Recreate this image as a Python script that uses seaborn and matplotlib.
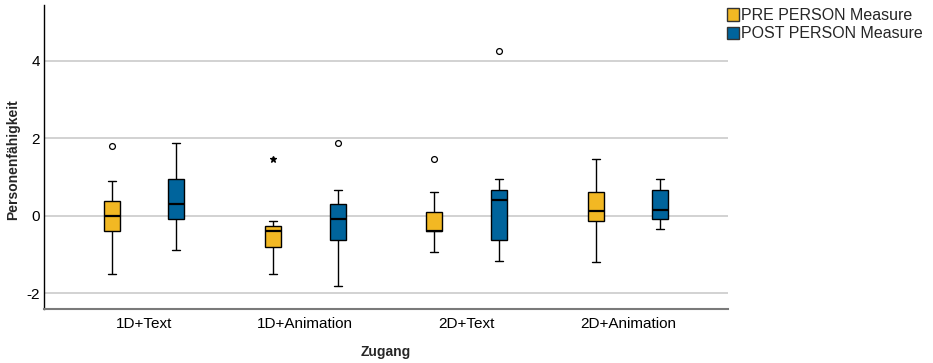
import matplotlib
matplotlib.use("Agg")
import matplotlib.pyplot as plt
from matplotlib.patches import Patch
import pandas as pd
import seaborn as sns

# Five-number summaries per approach (Zugang) and measurement
categories = ["1D+Text", "1D+Animation", "2D+Text", "2D+Animation"]
series = ["PRE PERSON Measure", "POST PERSON Measure"]

pre_low = [-1.49, -1.49, -0.92, -1.20]
pre_q1 = [-0.39, -0.79, -0.40, -0.14]
pre_median = [-0.01, -0.39, -0.40, 0.12]
pre_q3 = [0.38, -0.27, 0.11, 0.63]
pre_high = [0.90, -0.14, 0.63, 1.48]
pre_outliers = [[1.80], [1.47], [1.48], []]

post_low = [-0.88, -1.80, -1.17, -0.34]
post_q1 = [-0.09, -0.61, -0.61, -0.09]
post_median = [0.30, -0.09, 0.42, 0.16]
post_q3 = [0.95, 0.30, 0.68, 0.68]
post_high = [1.89, 0.68, 0.96, 0.95]
post_outliers = [[], [1.89], [4.26], []]

# extreme values (beyond 3 IQR) get a star instead of a circle
extreme_values = [1.47]

colors = ["#F2B823", "#00649C"]
y_ticks = [-2, 0, 2, 4]


def observations(low, q1, med, q3, high, outliers):
    """Observation set whose quartiles and whiskers land on the summary."""
    if not outliers:
        return [low, q1, med, q3, high]
    # 9 values: 25/50/75 % fall on indices 2/4/6
    return [low, q1, q1, med, med, q3, q3, high] + list(outliers)


rows = []
summaries = [
    (series[0], pre_low, pre_q1, pre_median, pre_q3, pre_high, pre_outliers),
    (series[1], post_low, post_q1, post_median, post_q3, post_high, post_outliers),
]
for name, lo, q1, md, q3, hi, out in summaries:
    for i, cat in enumerate(categories):
        for v in observations(lo[i], q1[i], md[i], q3[i], hi[i], out[i]):
            rows.append({"Zugang": cat, "Messung": name, "Wert": v})
df = pd.DataFrame(rows)

sns.set_style("white")
plt.rcParams["font.family"] = ["Liberation Sans", "DejaVu Sans"]

fig = plt.figure(figsize=(9.33, 3.63), dpi=100)
ax = fig.add_axes([44 / 933, 1 - 309 / 363, (728 - 44) / 933, (309 - 5) / 363])

sns.boxplot(
    data=df, x="Zugang", y="Wert", hue="Messung",
    order=categories, hue_order=series, palette=colors, saturation=1,
    width=0.8, gap=0.75, whis=1.5, linecolor="black", linewidth=1.0,
    medianprops={"color": "black", "linewidth": 1.6},
    flierprops={"marker": "o", "markersize": 4.2, "markerfacecolor": "white",
                "markeredgecolor": "black", "markeredgewidth": 0.9},
    legend=False, ax=ax,
)

# switch extreme outliers to star markers
for line in ax.lines:
    ys = list(line.get_ydata())
    if line.get_marker() == "o" and len(ys) and all(y in extreme_values for y in ys):
        line.set_marker("*")
        line.set_markerfacecolor("black")
        line.set_markersize(4.5)

ax.set_xlim(-0.62, 3.62)
ax.set_ylim(-2.40, 5.44)
ax.set_yticks(y_ticks)
ax.set_yticklabels([str(t) for t in y_ticks])
ax.yaxis.grid(True, color="#d2d2d2", linewidth=1.4)
ax.xaxis.grid(False)
ax.set_axisbelow(True)

for side in ("top", "right"):
    ax.spines[side].set_visible(False)
ax.spines["left"].set_color("black")
ax.spines["left"].set_linewidth(1.0)
ax.spines["bottom"].set_color("#7a7a7a")
ax.spines["bottom"].set_linewidth(1.5)

ax.tick_params(axis="both", length=0, labelsize=11, colors="black")
ax.tick_params(axis="x", pad=6)
ax.tick_params(axis="y", pad=3)

ax.set_xlabel("Zugang", fontsize=10, fontweight="bold", labelpad=10)
ax.set_ylabel("Personenfähigkeit", fontsize=10, fontweight="bold")
ax.yaxis.set_label_coords(-24 / 684, 0.49)

handles = [Patch(facecolor=c, edgecolor="#333333", linewidth=1.0) for c in colors]
fig.legend(
    handles, series, loc="upper left", bbox_to_anchor=(727 / 933, 1 - 8 / 363),
    frameon=False, fontsize=11.5, handlelength=0.75, handleheight=0.8,
    handletextpad=0.12, labelspacing=0.2, borderpad=0, borderaxespad=0,
)

fig.savefig("out.png", dpi=100)
